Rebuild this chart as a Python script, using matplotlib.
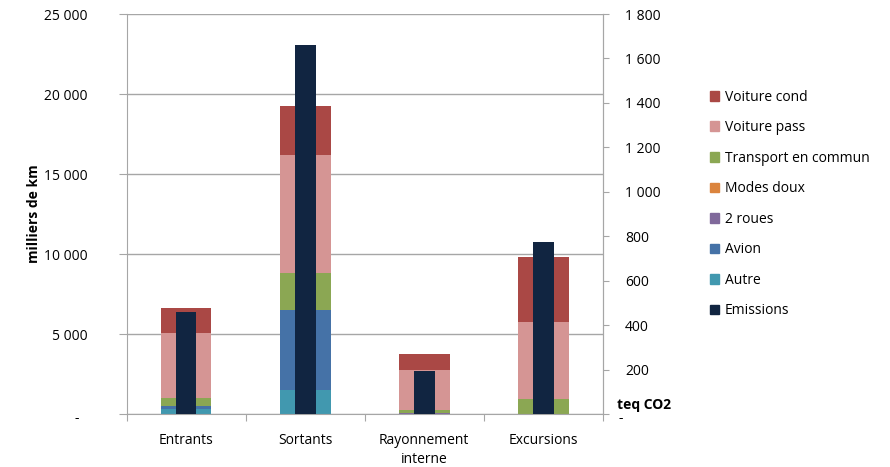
import matplotlib
matplotlib.use("Agg")
import matplotlib.pyplot as plt
import numpy as np
from matplotlib.ticker import FuncFormatter
from matplotlib.patches import Patch
from matplotlib.transforms import ScaledTranslation

categories = ["Entrants", "Sortants", "Rayonnement\ninterne", "Excursions"]
autre = [300, 1500, 0, 0]
avion = [200, 5000, 0, 0]
deux_roues = [0, 0, 50, 0]
modes_doux = [0, 0, 0, 0]
transport_commun = [500, 2300, 230, 950]
voiture_pass = [4050, 7400, 2440, 4800]
voiture_cond = [1600, 3060, 1060, 4060]
emissions = [459, 1660, 195, 774]

series = [
    ("Autre", autre, "#4198AF"),
    ("Avion", avion, "#4572A7"),
    ("2 roues", deux_roues, "#80699B"),
    ("Modes doux", modes_doux, "#DB843D"),
    ("Transport en commun", transport_commun, "#8BA753"),
    ("Voiture pass", voiture_pass, "#D59594"),
    ("Voiture cond", voiture_cond, "#AA4845"),
]
em_color = "#112541"

plt.rcParams['font.family'] = ['Open Sans', 'DejaVu Sans']
fig = plt.figure(figsize=(8.9, 4.67), dpi=100)
ax = fig.add_axes([126.5/890, 1-414/467, (603-126.5)/890, 400/467])
ax2 = ax.twinx()

x = np.arange(len(categories))
bottom = np.zeros(len(categories))
for name, vals, col in series:
    ax.bar(x, vals, width=0.425, bottom=bottom, color=col, zorder=2)
    bottom += np.array(vals)

ax2.bar(x, emissions, width=0.175, color=em_color, zorder=3)

ax.set_xlim(-0.5, len(categories) - 0.5)
ax.set_ylim(0, 25000)
ax2.set_ylim(0, 1800)
ax.set_yticks(np.arange(0, 25001, 5000))
ax2.set_yticks(np.arange(0, 1801, 200))

def fmt(v, pos):
    if v == 0:
        return ""
    return f"{int(v):,}".replace(",", " ")

ax.yaxis.set_major_formatter(FuncFormatter(fmt))
ax2.yaxis.set_major_formatter(FuncFormatter(fmt))

gray = "#A6A6A6"
ax.grid(axis='y', color=gray, linewidth=1, zorder=0)
ax.set_axisbelow(True)
for a in (ax, ax2):
    a.spines['top'].set_visible(False)
    a.spines['left'].set_color(gray)
    a.spines['right'].set_color(gray)
    a.spines['bottom'].set_color(gray)
ax2.spines['left'].set_visible(False)
ax2.spines['bottom'].set_visible(False)

ax.tick_params(axis='y', length=6, color=gray, labelsize=10, pad=22)
ax2.tick_params(axis='y', length=4, color=gray, labelsize=10, pad=12)

# zero labels drawn as "-" slightly below the axis line
down = ScaledTranslation(0, -3/72, fig.dpi_scale_trans)
ax.text((77 - 126.5) / 476.5, 0, "-", transform=ax.transAxes + down, fontsize=10,
        ha='center', va='center')
ax.text(1.033, 0, "-", transform=ax.transAxes + down, fontsize=10,
        ha='left', va='center')

ax.set_xticks(np.arange(-0.5, len(categories)), minor=False)
ax.set_xticks(x, minor=True)
ax.set_xticklabels([""] * (len(categories) + 1))
ax.set_xticklabels(categories, minor=True, linespacing=1.35)
ax.tick_params(axis='x', which='major', length=5, color=gray)
ax.tick_params(axis='x', which='minor', length=0, labelsize=10, pad=14)

ax.set_ylabel("milliers de km", fontsize=10, fontweight='bold')
ax.yaxis.set_label_coords((41 - 126.5) / 476.5, 0.5)
ax.text(1.03, 0.023, "teq CO2", transform=ax.transAxes, fontsize=10,
        fontweight='bold', ha='left', va='center')

handles = [Patch(color=c, label=n) for n, _, c in reversed(series)]
handles.append(Patch(color=em_color, label="Emissions"))
fig.legend(handles=handles, loc='upper left', bbox_to_anchor=(704/890, 1-84/467),
           frameon=False, fontsize=10, handlelength=0.7, handleheight=0.7,
           handletextpad=0.4, labelspacing=1.12, borderaxespad=0)

fig.savefig("out.png", dpi=100)
